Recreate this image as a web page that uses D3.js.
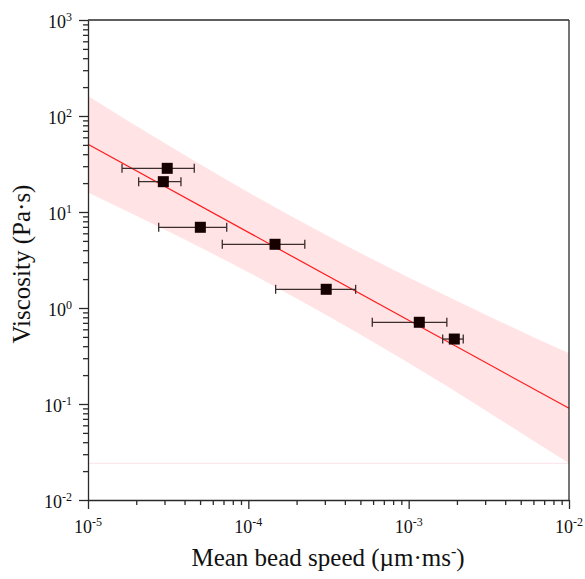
<!DOCTYPE html>
<html>
<head>
<meta charset="utf-8">
<script src="https://cdn.jsdelivr.net/npm/d3@7"></script>
<style>
  html, body { margin: 0; padding: 0; background: #fff; }
  svg { display: block; }
</style>
</head>
<body>
<svg id="chart" width="585" height="579"></svg>
<script>
// ---- Data ----
const speed    = [3.12e-5, 2.95e-5, 5.02e-5, 1.467e-4, 3.06e-4, 1.165e-3, 1.926e-3];
const speedLo  = [1.63e-5, 2.07e-5, 2.76e-5, 6.88e-5, 1.48e-4, 5.93e-4, 1.63e-3];
const speedHi  = [4.60e-5, 3.80e-5, 7.33e-5, 2.25e-4, 4.67e-4, 1.73e-3, 2.19e-3];
const viscosity = [28.5, 20.7, 6.93, 4.61, 1.566, 0.710, 0.475];

const fitX = [1e-5, 1e-2];
const fitY = [50.7, 0.0902];

const bandX     = [1e-5, 3.162e-5, 1e-4, 3.162e-4, 1e-3, 3.162e-3, 1e-2];
const bandUpper = [161.6, 49.5, 16.04, 5.58, 2.078, 0.822, 0.3374];
const bandLower = [15.93, 6.29, 2.355, 0.819, 0.2667, 0.0818, 0.0241];
const bandFloor = 0.0241;

const xTickVals = [1e-5, 1e-4, 1e-3, 1e-2];
const xTickExp  = ["-5", "-4", "-3", "-2"];
const yTickVals = [1e-2, 1e-1, 1e0, 1e1, 1e2, 1e3];
const yTickExp  = ["-2", "-1", "0", "1", "2", "3"];

const xLabel = "Mean bead speed (µm·ms";
const xLabelSup = "-";
const yLabel = "Viscosity (Pa·s)";

// ---- Layout ----
const FONT = "Liberation Serif";
const svg = d3.select("#chart");
const L = 88, R = 569, T = 20, B = 500;
const x = d3.scaleLog().domain([1e-5, 1e-2]).range([L, R]);
const y = d3.scaleLog().domain([1e-2, 1e3]).range([B, T]);

const axisColor = "#2a2a2a";

// Band
const bandData = bandX.map((v, i) => ({x: v, hi: bandUpper[i], lo: bandLower[i]}));
svg.append("path")
  .datum(bandData)
  .attr("fill", "#ffe3e5")
  .attr("d", d3.area()
    .x(d => x(d.x))
    .y0(d => y(d.lo))
    .y1(d => y(d.hi))
    .curve(d3.curveMonotoneX));

// faint floor line
svg.append("line")
  .attr("x1", x(1e-5)).attr("x2", x(1e-2))
  .attr("y1", y(bandFloor)).attr("y2", y(bandFloor))
  .attr("stroke", "#fbe3e6").attr("stroke-width", 1);

// Fit line
svg.append("path")
  .datum(fitX.map((v, i) => [v, fitY[i]]))
  .attr("fill", "none")
  .attr("stroke", "#ff1a1a")
  .attr("stroke-width", 1.2)
  .attr("d", d3.line().x(d => x(d[0])).y(d => y(d[1])));

// Error bars
const pts = speed.map((v, i) => ({x: v, lo: speedLo[i], hi: speedHi[i], y: viscosity[i]}));
const eb = svg.append("g").attr("stroke", "#3b2d2d").attr("stroke-width", 1.3);
eb.selectAll("line.h").data(pts).join("line")
  .attr("x1", d => x(d.lo)).attr("x2", d => x(d.hi))
  .attr("y1", d => y(d.y)).attr("y2", d => y(d.y));
eb.selectAll("line.cl").data(pts).join("line")
  .attr("x1", d => x(d.lo)).attr("x2", d => x(d.lo))
  .attr("y1", d => y(d.y) - 4.5).attr("y2", d => y(d.y) + 4.5);
eb.selectAll("line.cr").data(pts).join("line")
  .attr("x1", d => x(d.hi)).attr("x2", d => x(d.hi))
  .attr("y1", d => y(d.y) - 4.5).attr("y2", d => y(d.y) + 4.5);

// Markers
const ms = 11;
svg.append("g").selectAll("rect").data(pts).join("rect")
  .attr("x", d => x(d.x) - ms / 2)
  .attr("y", d => y(d.y) - ms / 2)
  .attr("width", ms).attr("height", ms)
  .attr("fill", "#160000");

// Frame
const frame = svg.append("g").attr("stroke", axisColor).attr("stroke-width", 1.3).attr("fill", "none");
frame.append("line").attr("x1", L).attr("x2", R).attr("y1", T).attr("y2", T);
frame.append("line").attr("x1", R).attr("x2", R).attr("y1", T).attr("y2", B);

// Axes using d3 axis generators
function minorTicks(domain) {
  const out = [];
  const lo = Math.round(Math.log10(domain[0])), hi = Math.round(Math.log10(domain[1]));
  for (let e = lo; e < hi; e++) for (let m = 2; m <= 9; m++) out.push(m * Math.pow(10, e));
  return out;
}

const xAxisMajor = d3.axisBottom(x).tickValues(xTickVals).tickSize(9).tickSizeOuter(0).tickFormat("");
const xAxisMinor = d3.axisBottom(x).tickValues(minorTicks(x.domain())).tickSize(5).tickFormat("");
const yAxisMajor = d3.axisLeft(y).tickValues(yTickVals).tickSize(9).tickSizeOuter(0).tickFormat("");
const yAxisMinor = d3.axisLeft(y).tickValues(minorTicks(y.domain())).tickSize(5).tickFormat("");

function styleAxis(g) {
  g.selectAll("path, line").attr("stroke", axisColor).attr("stroke-width", 1.3);
}
svg.append("g").attr("transform", `translate(0,${B})`).call(xAxisMinor).call(styleAxis).select(".domain").remove();
svg.append("g").attr("transform", `translate(0,${B})`).call(xAxisMajor).call(styleAxis);
svg.append("g").attr("transform", `translate(${L},0)`).call(yAxisMinor).call(styleAxis).select(".domain").remove();
svg.append("g").attr("transform", `translate(${L},0)`).call(yAxisMajor).call(styleAxis);

// X tick labels
const xl = svg.append("g").selectAll("text").data(xTickVals).join("text")
  .attr("x", d => x(d)).attr("y", B + 33)
  .attr("text-anchor", "middle")
  .style("font-family", FONT).attr("fill", "#111")
  .attr("font-size", 18);
xl.append("tspan").text("10");
xl.append("tspan").attr("font-size", 12).attr("dy", -7).text((d, i) => xTickExp[i]);

// Y tick labels
const yl = svg.append("g").selectAll("text").data(yTickVals).join("text")
  .attr("x", 72).attr("y", d => y(d) + 8)
  .attr("text-anchor", "end")
  .style("font-family", FONT).attr("fill", "#111")
  .attr("font-size", 18);
yl.append("tspan").text("10");
yl.append("tspan").attr("font-size", 12).attr("dy", -7).text((d, i) => yTickExp[i]);

// Axis titles
const xt = svg.append("text")
  .attr("x", 328).attr("y", 566)
  .attr("text-anchor", "middle")
  .style("font-family", FONT).attr("fill", "#111")
  .attr("font-size", 25);
xt.append("tspan").text(xLabel);
xt.append("tspan").attr("font-size", 16).attr("dy", -9).text(xLabelSup);
xt.append("tspan").attr("dy", 9).text(")");

svg.append("text")
  .attr("transform", `translate(30,264) rotate(-90)`)
  .attr("text-anchor", "middle")
  .style("font-family", FONT).attr("fill", "#111")
  .attr("font-size", 25)
  .text(yLabel);
</script>
</body>
</html>
